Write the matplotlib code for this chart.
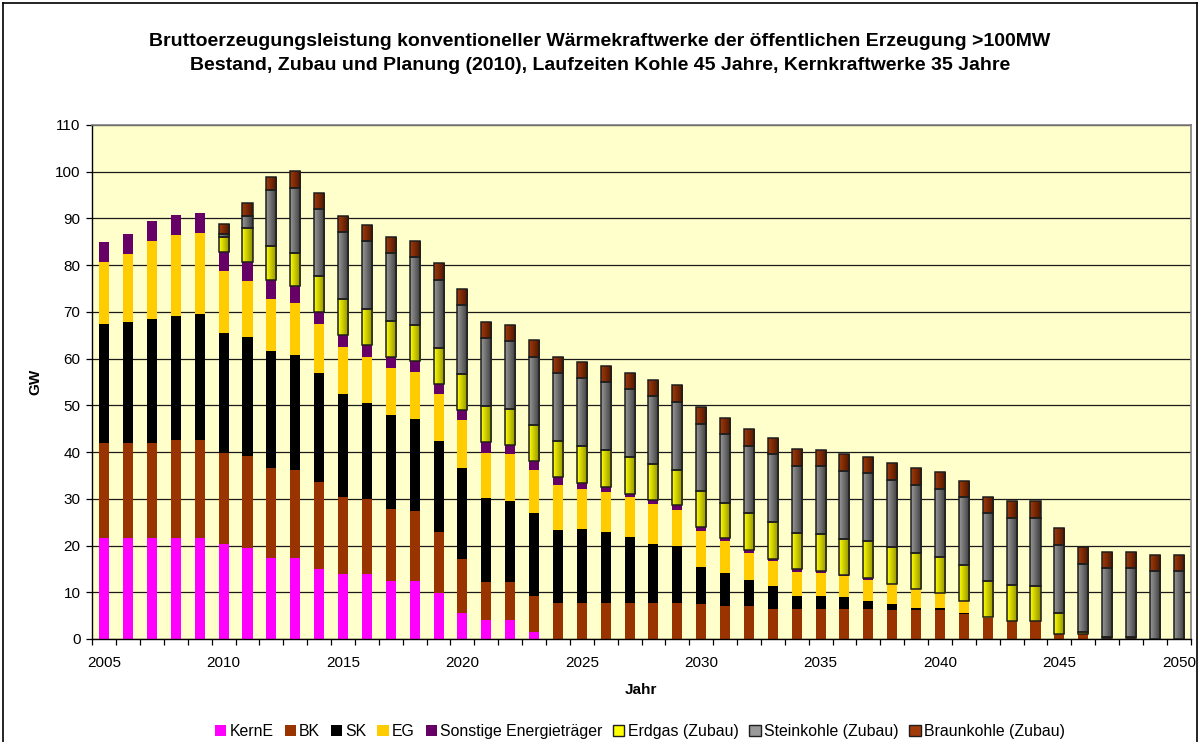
import numpy as np
import matplotlib
matplotlib.use('Agg')
import matplotlib.pyplot as plt
from matplotlib.colors import LinearSegmentedColormap
from matplotlib.patches import Patch
from matplotlib.lines import Line2D

plt.rcParams['font.family'] = ['Liberation Sans', 'DejaVu Sans']

# Data (GW), years 2005-2050
years = list(range(2005, 2051))

kern_e = [21.6, 21.6, 21.6, 21.6, 21.6, 20.3, 19.4, 17.3, 17.3, 14.9,
          14.0, 14.0, 12.5, 12.5, 9.9, 5.6, 4.1, 4.1, 1.4, 0,
          0, 0, 0, 0, 0, 0, 0, 0, 0, 0,
          0, 0, 0, 0, 0, 0, 0, 0, 0, 0,
          0, 0, 0, 0, 0, 0]
bk = [20.3, 20.3, 20.3, 20.9, 20.9, 19.6, 19.7, 19.4, 18.8, 18.8,
      16.3, 15.9, 15.4, 14.8, 12.9, 11.6, 8.0, 8.0, 7.7, 7.8,
      7.8, 7.8, 7.8, 7.8, 7.8, 7.4, 7.1, 7.1, 6.5, 6.5,
      6.5, 6.5, 6.5, 6.1, 6.3, 6.3, 5.3, 4.4, 3.8, 3.8,
      1.1, 1.1, 0.3, 0.3, 0, 0]
sk = [25.5, 25.9, 26.5, 26.6, 27.0, 25.5, 25.5, 24.9, 24.6, 23.2,
      22.1, 20.5, 20.0, 19.7, 19.5, 19.5, 18.0, 17.5, 17.8, 15.6,
      15.8, 15.0, 14.1, 12.6, 12.0, 8.1, 7.1, 5.6, 4.9, 2.8,
      2.8, 2.4, 1.7, 1.3, 0.3, 0.3, 0.3, 0.15, 0, 0,
      0, 0, 0, 0, 0, 0]
eg = [13.2, 14.6, 16.7, 17.3, 17.4, 13.3, 12.0, 11.1, 11.2, 10.5,
      10.0, 9.9, 10.2, 10.1, 10.1, 10.1, 9.8, 9.9, 9.2, 9.5,
      8.4, 8.6, 8.4, 8.4, 7.9, 7.7, 6.7, 5.8, 5.2, 5.1,
      4.9, 4.5, 4.5, 4.3, 4.1, 3.2, 2.5, 0.2, 0, 0,
      0, 0, 0, 0, 0, 0]
sonstige = [4.3, 4.2, 4.3, 4.3, 4.2, 4.1, 4.0, 4.2, 3.6, 2.6,
            2.7, 2.7, 2.3, 2.3, 2.2, 2.3, 2.2, 2.1, 2.0, 1.7,
            1.3, 1.2, 0.8, 0.9, 0.9, 0.7, 0.7, 0.6, 0.6, 0.5,
            0.4, 0.4, 0.4, 0.1, 0, 0, 0, 0, 0, 0,
            0, 0, 0, 0, 0, 0]
erdgas_zubau = [0, 0, 0, 0, 0, 3.2, 7.4, 7.2, 7.2, 7.7,
                7.6, 7.6, 7.7, 7.7, 7.7, 7.7, 7.8, 7.6, 7.7, 7.7,
                7.9, 7.8, 7.8, 7.7, 7.6, 7.7, 7.6, 7.8, 7.8, 7.7,
                7.9, 7.6, 7.8, 7.8, 7.7, 7.8, 7.7, 7.6, 7.7, 7.6,
                4.5, 0.5, 0.2, 0.2, 0, 0]
steinkohle_zubau = [0, 0, 0, 0, 0, 0.7, 2.6, 11.9, 13.9, 14.4,
                    14.4, 14.5, 14.5, 14.6, 14.6, 14.6, 14.5, 14.6, 14.6, 14.6,
                    14.6, 14.5, 14.5, 14.5, 14.6, 14.5, 14.6, 14.5, 14.5, 14.5,
                    14.5, 14.6, 14.6, 14.5, 14.6, 14.5, 14.5, 14.6, 14.5, 14.5,
                    14.5, 14.5, 14.6, 14.6, 14.6, 14.5]
braunkohle_zubau = [0, 0, 0, 0, 0, 2.1, 2.8, 2.8, 3.5, 3.4,
                    3.5, 3.4, 3.4, 3.5, 3.5, 3.5, 3.5, 3.5, 3.5, 3.4,
                    3.4, 3.5, 3.5, 3.5, 3.5, 3.5, 3.5, 3.5, 3.5, 3.5,
                    3.5, 3.5, 3.5, 3.6, 3.5, 3.6, 3.5, 3.5, 3.6, 3.6,
                    3.6, 3.5, 3.5, 3.5, 3.4, 3.4]

solid_series = [
    ('KernE', kern_e, '#FF00FF'),
    ('BK', bk, '#993300'),
    ('SK', sk, '#000000'),
    ('EG', eg, '#FFCC00'),
    ('Sonstige Energieträger', sonstige, '#660066'),
]
zubau_series = [
    ('Erdgas (Zubau)', erdgas_zubau, '#FFFF00', '#8C8C00'),
    ('Steinkohle (Zubau)', steinkohle_zubau, '#999999', '#3A3A3A'),
    ('Braunkohle (Zubau)', braunkohle_zubau, '#A33A0A', '#4A1500'),
]

fig = plt.figure(figsize=(12, 7.42), dpi=100)
ax = fig.add_axes([92.3 / 1200, 1 - 639 / 742, 1098.4 / 1200, 514 / 742])
ax.set_facecolor('#FFFFCC')

x = np.arange(len(years))
w = 0.42
bottom = np.zeros(len(years))
handles = []

for name, vals, col in solid_series:
    v = np.array(vals, dtype=float)
    ax.bar(x, v, w, bottom=bottom, color=col, linewidth=0, zorder=2)
    bottom += v
    handles.append(Patch(facecolor=col, edgecolor='none', label=name))

# Zubau series: bars with a left-to-right colour gradient and dark outline
grad = np.linspace(0, 1, 64).reshape(1, -1)
for name, vals, c1, c2 in zubau_series:
    v = np.array(vals, dtype=float)
    cmap = LinearSegmentedColormap.from_list(name, [c1, c2])
    bars = ax.bar(x, v, w, bottom=bottom, color=c2, edgecolor='#1E1E1E',
                  linewidth=1.1, zorder=3)
    for b in bars:
        if b.get_height() <= 0:
            b.set_visible(False)
            continue
        b.set_facecolor('none')
        x0, y0 = b.get_x(), b.get_y()
        im = ax.imshow(grad, cmap=cmap, aspect='auto', interpolation='bilinear',
                       extent=(x0, x0 + b.get_width(), y0, y0 + b.get_height()),
                       zorder=2.5)
        im.set_clip_path(b)
    bottom += v
    handles.append(Patch(facecolor=c1, edgecolor='#1E1E1E', linewidth=1.0, label=name))

ax.set_xlim(-0.5, len(years) - 0.5)
ax.set_ylim(0, 110)
ax.set_yticks(np.arange(0, 111, 10))
ax.yaxis.grid(True, color='#1A1A1A', linewidth=0.9, zorder=1)
ax.set_axisbelow(True)

lab_idx = [i for i, yv in enumerate(years) if yv % 5 == 0]
ax.set_xticks(lab_idx)
ax.set_xticklabels([str(years[i]) for i in lab_idx])
ax.set_xticks(np.arange(-0.5, len(years), 1), minor=True)
ax.tick_params(axis='x', which='major', length=0, pad=12, labelsize=11)
ax.tick_params(axis='x', which='minor', length=4.5, width=0.9, direction='out')
ax.tick_params(axis='y', length=4.5, width=0.9, pad=4, labelsize=11)

for s in ['top', 'right']:
    ax.spines[s].set_color('#808080')
    ax.spines[s].set_linewidth(1.2)
for s in ['left', 'bottom']:
    ax.spines[s].set_color('black')
    ax.spines[s].set_linewidth(1.0)

fig.text(0.5, 1 - 42 / 742, 'Bruttoerzeugungsleistung konventioneller Wärmekraftwerke der öffentlichen Erzeugung >100MW',
         ha='center', va='center', fontsize=14, fontweight='bold')
fig.text(0.5, 1 - 66 / 742, 'Bestand, Zubau und Planung (2010), Laufzeiten Kohle 45 Jahre, Kernkraftwerke 35 Jahre',
         ha='center', va='center', fontsize=14, fontweight='bold')
fig.text(35 / 1200, 1 - 382 / 742, 'GW', rotation=90, ha='center', va='center',
         fontsize=11, fontweight='bold')
fig.text(641 / 1200, 1 - 690 / 742, 'Jahr', ha='center', va='center',
         fontsize=11, fontweight='bold')

fig.legend(handles=handles, loc='center', bbox_to_anchor=(640 / 1200, 1 - 731.5 / 742),
           ncol=8, frameon=False, fontsize=11.4, handlelength=0.7, handleheight=0.7,
           handletextpad=0.2, columnspacing=0.7, borderaxespad=0)

# outer chart frame
for xs, ys in [([3, 3], [0, 739]), ([3, 1197], [739, 739]), ([1197, 1197], [0, 739])]:
    fig.add_artist(Line2D([v / 1200 for v in xs], [v / 742 for v in ys],
                          color='black', linewidth=1.2))

fig.savefig('out.png', dpi=100)
